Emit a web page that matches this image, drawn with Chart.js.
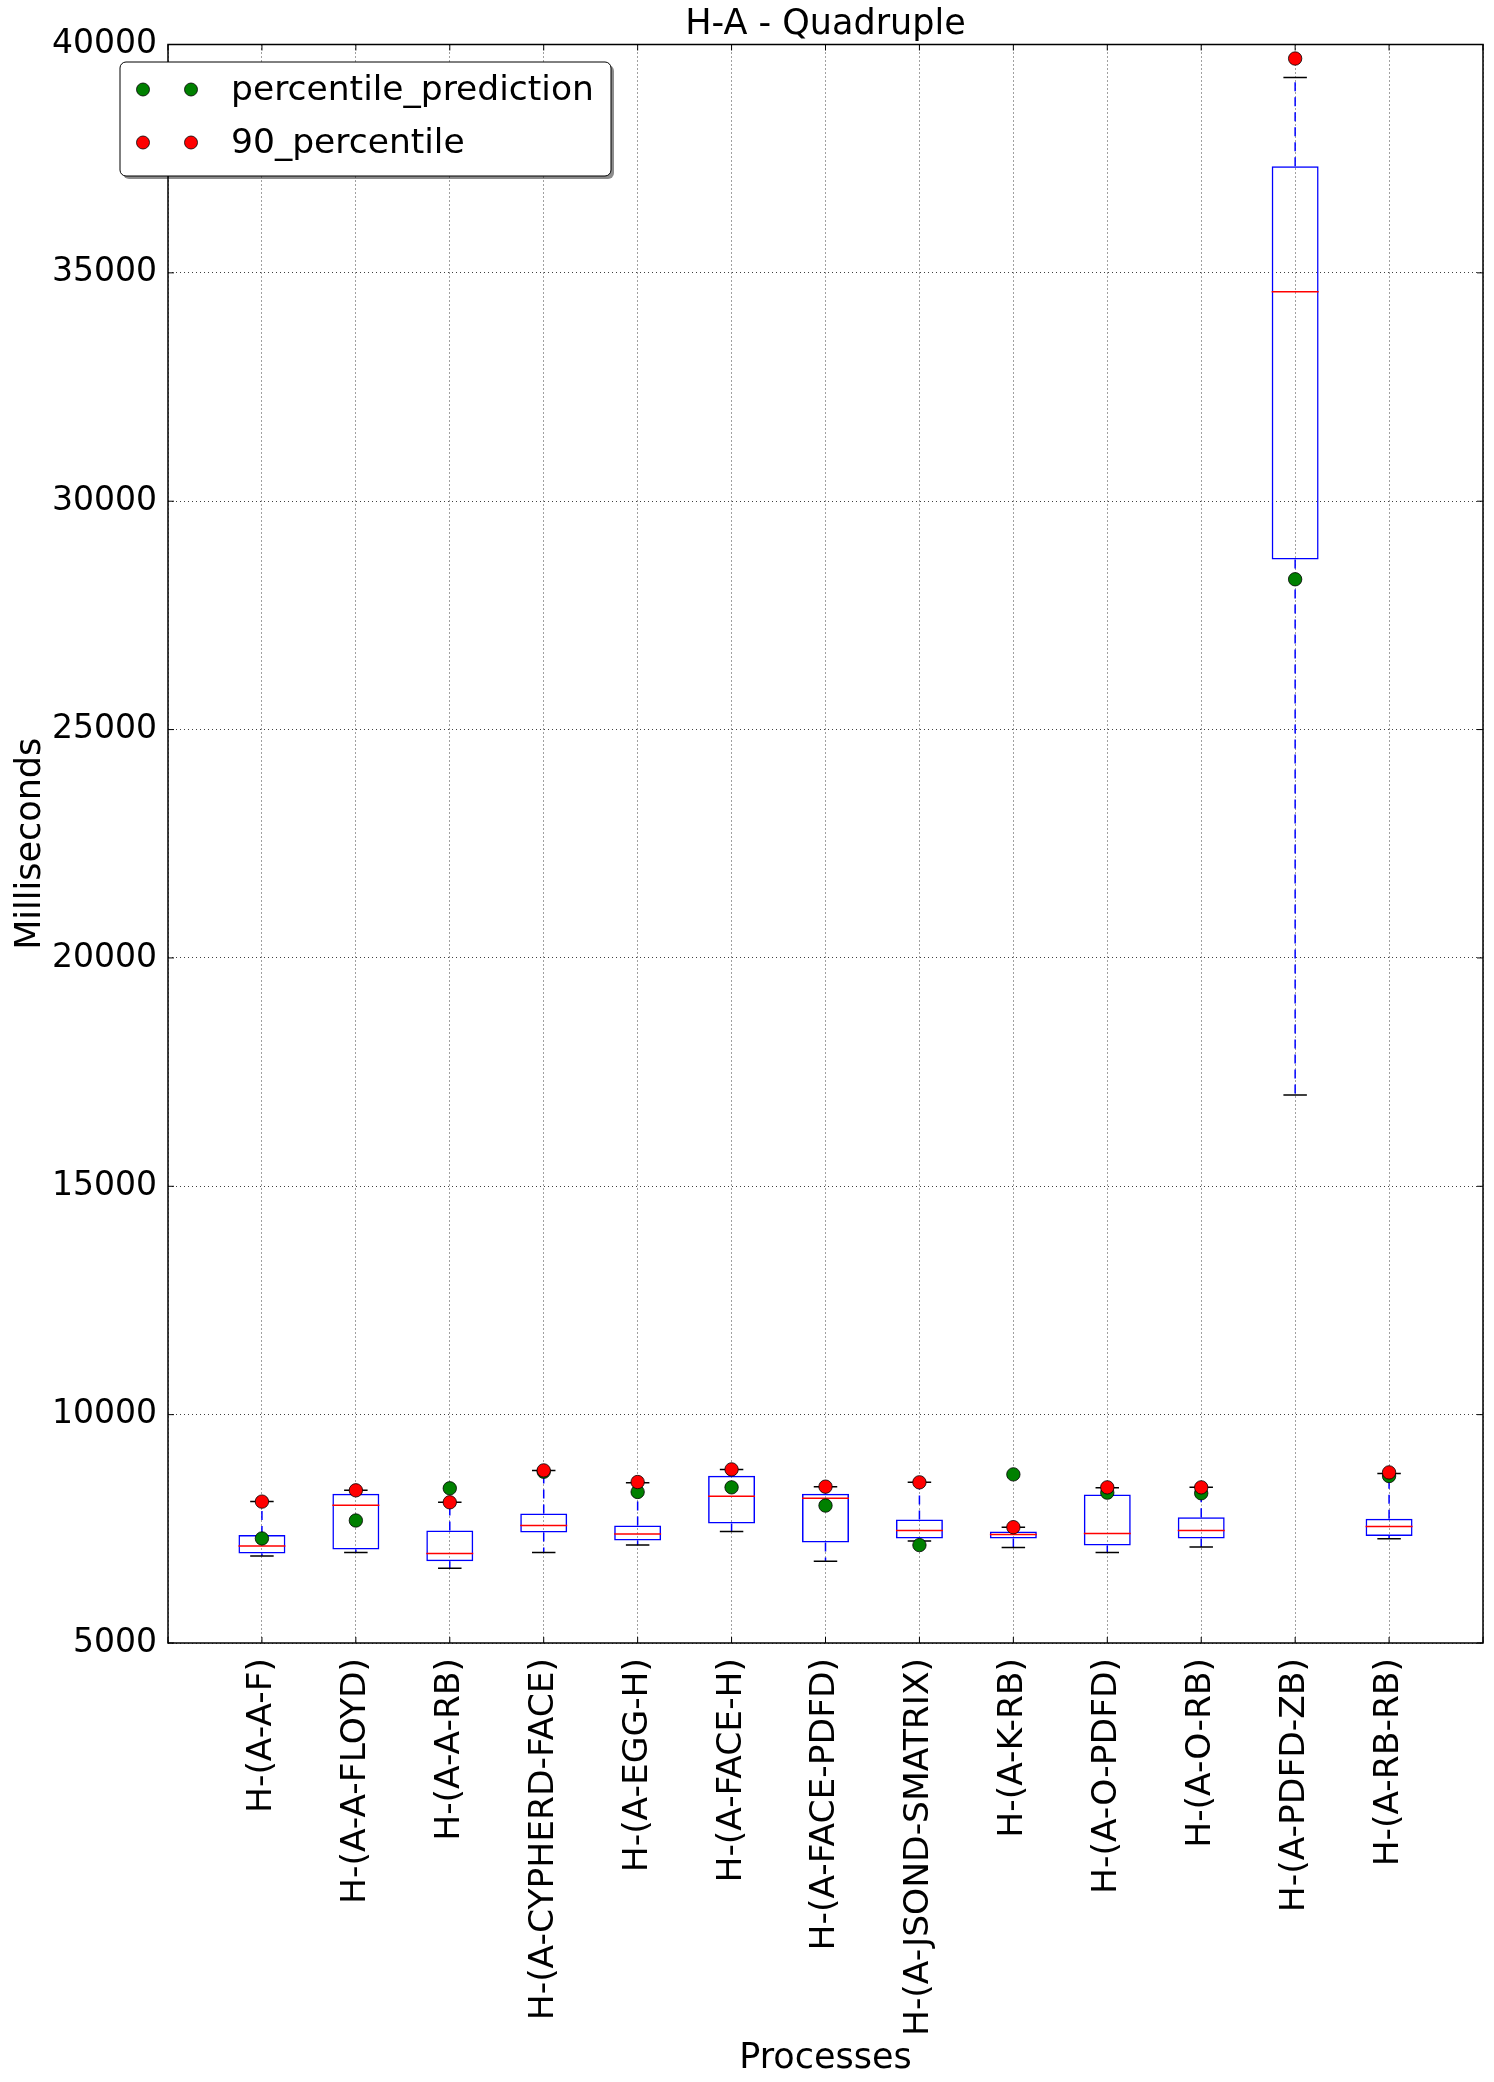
<!DOCTYPE html>
<html>
<head>
<meta charset="utf-8">
<script src="https://cdn.jsdelivr.net/npm/chart.js@4.4.1/dist/chart.umd.min.js"></script>
<style>
  html, body { margin: 0; padding: 0; background: #fff; }
</style>
</head>
<body>
<canvas id="boxChart" width="1494" height="2082"></canvas>
<script>
const categories = ['H-(A-A-F)', 'H-(A-A-FLOYD)', 'H-(A-A-RB)', 'H-(A-CYPHERD-FACE)', 'H-(A-EGG-H)',
  'H-(A-FACE-H)', 'H-(A-FACE-PDFD)', 'H-(A-JSOND-SMATRIX)', 'H-(A-K-RB)', 'H-(A-O-PDFD)',
  'H-(A-O-RB)', 'H-(A-PDFD-ZB)', 'H-(A-RB-RB)'];
const yTickValues = [5000, 10000, 15000, 20000, 25000, 30000, 35000, 40000];

// box plot statistics (ms)
const whiskerLow  = [6904, 6984, 6635, 6984, 7144, 7442, 6788, 7231, 7093, 6984, 7100, 17000, 7285];
const q1          = [6962, 7049, 6788, 7420, 7246, 7616, 7202, 7289, 7289, 7137, 7289, 28725, 7345];
const median      = [7122, 8016, 6962, 7573, 7384, 8212, 8169, 7464, 7376, 7398, 7464, 34584, 7550];
const q3          = [7362, 8270, 7464, 7834, 7573, 8663, 8270, 7703, 7442, 8249, 7754, 37333, 7720];
const whiskerHigh = [8096, 8343, 8081, 8779, 8510, 8801, 8423, 8518, 7536, 8401, 8408, 39277, 8710];

// markers
const percentilePrediction = [7289, 7682, 8387, 8750, 8307, 8408, 8009, 7144, 8692, 8292, 8278, 28291, 8656];
const percentile90         = [8096, 8343, 8081, 8779, 8525, 8801, 8423, 8518, 7536, 8408, 8408, 39693, 8735];

const FONT = 'DejaVu Sans';
const CAP_HALF = 0.125;
const MED_HALF = 0.25;

Chart.defaults.font.family = FONT;
Chart.defaults.color = '#000';

// horizontal pieces centred on each box, broken apart by null points
function hSegments(values, half) {
  const pts = [];
  values.forEach((v, i) => {
    pts.push({x: i + 1 - half, y: v}, {x: i + 1 + half, y: v}, {x: i + 1.5, y: null});
  });
  return pts;
}
function vSegments(from, to) {
  const pts = [];
  from.forEach((v, i) => {
    pts.push({x: i + 1, y: v}, {x: i + 1, y: to[i]}, {x: i + 1.5, y: null});
  });
  return pts;
}
const asPoints = arr => arr.map((v, i) => ({x: i + 1, y: v}));

const framePlugin = {
  id: 'frame',
  beforeDatasetsDraw(chart) {
    const {ctx, chartArea: a, scales: {x, y}} = chart;
    const t = 6;
    ctx.save();
    ctx.strokeStyle = '#000';
    ctx.lineWidth = 1;
    ctx.beginPath();
    x.ticks.forEach(tk => {
      const px = x.getPixelForValue(tk.value);
      ctx.moveTo(px, a.bottom); ctx.lineTo(px, a.bottom - t);
      ctx.moveTo(px, a.top); ctx.lineTo(px, a.top + t);
    });
    y.ticks.forEach(tk => {
      const py = y.getPixelForValue(tk.value);
      ctx.moveTo(a.left, py); ctx.lineTo(a.left + t, py);
      ctx.moveTo(a.right, py); ctx.lineTo(a.right - t, py);
    });
    ctx.stroke();
    ctx.lineWidth = 1.5;
    ctx.strokeRect(a.left, a.top, a.right - a.left, a.bottom - a.top);
    ctx.restore();
  }
};

const legendPlugin = {
  id: 'boxLegend',
  afterDraw(chart) {
    const ctx = chart.ctx;
    const items = chart.data.datasets.filter(d => d.type === 'scatter');
    const bx = 120, by = 62, bw = 491, bh = 114, r = 6;
    ctx.save();
    const rounded = (x, y) => {
      ctx.beginPath();
      ctx.roundRect(x, y, bw, bh, r);
    };
    rounded(bx + 3, by + 3);
    ctx.fillStyle = 'rgba(0,0,0,0.45)';
    ctx.fill();
    rounded(bx, by);
    ctx.fillStyle = '#fff';
    ctx.fill();
    ctx.strokeStyle = '#000';
    ctx.lineWidth = 1;
    ctx.stroke();
    ctx.font = '34.5px "' + FONT + '"';
    ctx.textBaseline = 'middle';
    items.forEach((d, k) => {
      const ry = by + 27.5 + k * 53;
      [143, 191].forEach(cx => {
        ctx.beginPath();
        ctx.arc(cx, ry, 6.5, 0, Math.PI * 2);
        ctx.fillStyle = d.backgroundColor;
        ctx.fill();
        ctx.strokeStyle = '#000';
        ctx.lineWidth = 0.8;
        ctx.stroke();
      });
      ctx.fillStyle = '#000';
      ctx.fillText(d.label, 231, ry + 2);
    });
    ctx.restore();
  }
};

const ctx = document.getElementById('boxChart').getContext('2d');
const boxChart = new Chart(ctx, {
  type: 'bar',
  data: {
    datasets: [
      {
        type: 'scatter',
        label: 'percentile_prediction',
        data: asPoints(percentilePrediction),
        backgroundColor: '#008000',
        borderColor: '#000',
        borderWidth: 0.8,
        pointRadius: 6.7,
        order: 1
      },
      {
        type: 'scatter',
        label: '90_percentile',
        data: asPoints(percentile90),
        backgroundColor: '#ff0000',
        borderColor: '#000',
        borderWidth: 0.8,
        pointRadius: 6.7,
        order: 0
      },
      {
        type: 'line',
        label: 'caps',
        data: hSegments(whiskerHigh, CAP_HALF).concat(hSegments(whiskerLow, CAP_HALF)),
        borderColor: '#000',
        borderWidth: 1.5,
        pointRadius: 0,
        spanGaps: false,
        order: 3
      },
      {
        type: 'line',
        label: 'medians',
        data: hSegments(median, MED_HALF),
        borderColor: '#ff0000',
        borderWidth: 1.5,
        pointRadius: 0,
        spanGaps: false,
        order: 2
      },
      {
        type: 'line',
        label: 'whiskers',
        data: vSegments(q3, whiskerHigh).concat(vSegments(q1, whiskerLow)),
        borderColor: '#0000ff',
        borderWidth: 1.5,
        borderDash: [9, 6],
        pointRadius: 0,
        spanGaps: false,
        order: 4
      },
      {
        type: 'bar',
        label: 'boxes',
        data: q1.map((v, i) => ({x: i + 1, y: [v, q3[i]]})),
        backgroundColor: 'rgba(0,0,0,0)',
        borderColor: '#0000ff',
        borderWidth: 1.5,
        borderSkipped: false,
        categoryPercentage: 1,
        barPercentage: 0.5,
        order: 2
      }
    ]
  },
  options: {
    responsive: false,
    devicePixelRatio: 1,
    animation: false,
    layout: { padding: { top: 0, right: 11, bottom: 0, left: 0 } },
    plugins: {
      legend: { display: false },
      tooltip: { enabled: false },
      title: {
        display: true,
        fullSize: false,
        text: 'H-A - Quadruple',
        color: '#000',
        font: { size: 35, weight: 'normal', lineHeight: 1.1 },
        padding: { top: 6, bottom: 0 }
      }
    },
    scales: {
      x: {
        type: 'linear',
        min: 0,
        max: 14,
        offset: false,
        grid: { color: 'rgba(0,0,0,0.75)', lineWidth: 1, drawTicks: false, offset: false },
        border: { display: false, dash: [1, 3] },
        ticks: {
          stepSize: 1,
          autoSkip: false,
          maxRotation: 90,
          minRotation: 90,
          padding: 15,
          font: { size: 34.5 },
          color: '#000',
          callback: v => categories[v - 1] || ''
        },
        title: {
          display: true,
          text: 'Processes',
          font: { size: 35 },
          color: '#000',
          padding: { top: 0, bottom: 2 }
        },
        afterFit: s => {
          s.height = 439;
          // empty end labels should not eat into the plot width
          s.paddingLeft = 0;
          s.paddingRight = 0;
        }
      },
      y: {
        type: 'linear',
        min: 5000,
        max: 40000,
        afterBuildTicks: s => { s.ticks = yTickValues.map(v => ({value: v})); },
        grid: { color: 'rgba(0,0,0,0.75)', lineWidth: 1, drawTicks: false },
        border: { display: false, dash: [1, 3] },
        ticks: {
          padding: 11,
          font: { size: 33 },
          color: '#000',
          callback: v => String(v)
        },
        title: {
          display: true,
          text: 'Milliseconds',
          font: { size: 35 },
          color: '#000',
          padding: { top: 9.5, bottom: 0 }
        },
        afterFit: s => { s.width = 168; }
      }
    }
  },
  plugins: [framePlugin, legendPlugin]
});
</script>
</body>
</html>
